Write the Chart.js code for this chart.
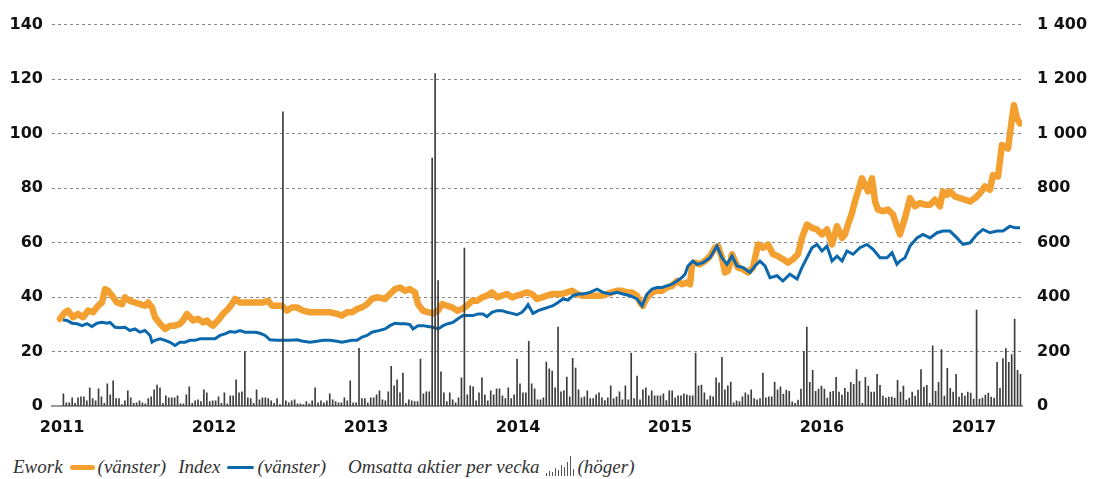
<!DOCTYPE html>
<html>
<head>
<meta charset="utf-8">
<script src="https://cdn.jsdelivr.net/npm/chart.js@4.4.1/dist/chart.umd.min.js"></script>
<style>
  body { margin: 0; background: #fff; }
  #wrap { position: relative; width: 1093px; height: 479px; overflow: hidden; }
  #chart { position: absolute; left: 0; top: 0; }
  .legend { position: absolute; left: 13px; top: 456px; display: flex; align-items: center;
    font-family: "Liberation Serif", serif; font-style: italic; font-size: 19px; color: #333; white-space: nowrap; }
  .sw { display: inline-block; margin: 0 3px 0 7px; border-radius: 3px; }
  .gap1 { width: 12px; }
  .gap2 { width: 22px; }
  .icon { display: inline-flex; align-items: flex-end; height: 18px; margin: 0 2px 0 6px; }
  .icon span { display: inline-block; width: 1px; background: #555; margin-right: 2px; }
</style>
</head>
<body>
<div id="wrap">
  <canvas id="chart" width="1093" height="450"></canvas>
  <div class="legend">
    <span>Ework</span><span class="sw" style="width:25px;height:5px;background:#f3a030"></span><span>(vänster)</span>
    <span class="gap1"></span>
    <span>Index</span><span class="sw" style="width:27px;height:3px;background:#0b68ad"></span><span>(vänster)</span>
    <span class="gap2"></span>
    <span>Omsatta aktier per vecka</span>
    <span class="icon" id="icon"></span>
    <span>(höger)</span>
  </div>
</div>
<script>
// x axis years, y axis ticks
const yearLabels = [2011, 2012, 2013, 2014, 2015, 2016, 2017];
const leftTicks = [0, 20, 40, 60, 80, 100, 120, 140];
const rightTicks = [0, 200, 400, 600, 800, 1000, 1200, 1400];

// Ework share price (decimal year, value)
const ewT = [2010.987,2011.020,2011.039,2011.072,2011.105,2011.138,2011.171,2011.204,2011.237,2011.263,
  2011.283,2011.303,2011.329,2011.362,2011.395,2011.414,2011.447,2011.480,2011.513,2011.546,
  2011.566,2011.592,2011.612,2011.645,2011.678,2011.711,2011.743,2011.776,2011.796,2011.822,
  2011.842,2011.862,2011.895,2011.928,2011.954,2011.974,2011.993,2012.026,2012.059,2012.092,
  2012.118,2012.138,2012.171,2012.204,2012.237,2012.283,2012.322,2012.355,2012.382,2012.414,
  2012.447,2012.480,2012.513,2012.546,2012.586,2012.632,2012.678,2012.717,2012.763,2012.809,
  2012.842,2012.875,2012.908,2012.941,2012.974,2013.007,2013.039,2013.072,2013.125,2013.158,
  2013.191,2013.224,2013.257,2013.289,2013.322,2013.342,2013.375,2013.408,2013.441,2013.474,
  2013.500,2013.533,2013.566,2013.599,2013.632,2013.664,2013.697,2013.730,2013.763,2013.796,
  2013.829,2013.862,2013.895,2013.928,2013.961,2013.993,2014.026,2014.059,2014.092,2014.125,
  2014.158,2014.191,2014.224,2014.257,2014.289,2014.322,2014.355,2014.388,2014.421,2014.454,
  2014.487,2014.520,2014.553,2014.586,2014.618,2014.651,2014.684,2014.717,2014.750,2014.783,
  2014.803,2014.822,2014.849,2014.882,2014.914,2014.947,2014.980,2015.013,2015.046,2015.079,
  2015.112,2015.132,2015.145,2015.164,2015.197,2015.230,2015.263,2015.296,2015.316,2015.342,
  2015.362,2015.382,2015.408,2015.428,2015.447,2015.480,2015.513,2015.546,2015.579,2015.612,
  2015.645,2015.678,2015.711,2015.743,2015.776,2015.809,2015.842,2015.868,2015.901,2015.934,
  2015.967,2016.000,2016.033,2016.066,2016.099,2016.132,2016.151,2016.171,2016.197,2016.217,
  2016.237,2016.263,2016.283,2016.303,2016.329,2016.349,2016.368,2016.401,2016.434,2016.467,
  2016.493,2016.513,2016.546,2016.579,2016.612,2016.645,2016.678,2016.711,2016.743,2016.776,
  2016.796,2016.822,2016.842,2016.875,2016.908,2016.941,2016.974,2017.007,2017.039,2017.072,
  2017.105,2017.125,2017.158,2017.184,2017.204,2017.224,2017.250,2017.263,2017.283,2017.303];
const ewV = [32,34.4,35,32.6,33.8,32.6,35,34.4,36.8,38,
  42.9,42.3,40.5,38,37.4,39.9,38.6,38,37.4,36.8,
  38,36.2,32.6,30.2,28.3,29.5,29.5,30.2,31.4,33.8,
  32.6,31.4,32,30.7,31.4,30.2,29.5,31.4,33.8,35.6,
  37.4,39.3,38,38,38,38,38,38.6,36.8,36.8,
  36.8,35,36.2,36.2,35,34.4,34.4,34.4,34.4,33.8,
  33.2,34.4,34.4,35.6,36.2,37.4,39.3,39.9,39.3,41.1,
  42.9,43.5,42.3,42.9,41.7,37.4,35,34.4,34,35,
  37.4,36.8,36.2,35,35.6,36.8,38.6,38.6,39.9,40.5,
  41.7,39.9,40.5,41.1,39.9,40.5,41.1,41.7,41.1,39.3,
  39.9,40.5,41.1,41.1,41.1,41.7,42.3,41.1,40.5,40.5,
  40.5,40.5,40.5,41.1,41.7,42.3,42.3,41.7,41.7,40.5,
  38,36.8,39.9,41.7,42.3,42.3,43.5,44.1,45.9,44.7,
  45.3,44.7,52,52.6,52,53.2,55,58.1,58.7,54.4,
  49,49.6,55.7,53.2,50.8,50.2,49,50.8,59.3,58.1,
  59.3,55.7,55,53.9,52.6,53.9,55.7,61.7,66.6,65.4,
  64.8,63,64.8,59.3,66,61.7,63,66.6,70.8,75.1,
  78.8,83.6,81.2,78.8,83.6,75.1,72.1,71.5,72.1,70.3,
  66,63,69,76.3,73.3,74.5,73.9,73.9,75.7,73.3,
  78.8,77.5,78.8,76.9,76.3,75.7,75.1,76.3,78.1,80.6,
  79.4,84.8,84.2,95.8,95.2,94.5,105.5,110.4,105.5,103.7];

// Index (decimal year, value)
const ixT = [2011.007,2011.033,2011.066,2011.099,2011.132,2011.164,2011.197,2011.230,2011.263,2011.296,
  2011.316,2011.349,2011.382,2011.414,2011.447,2011.480,2011.513,2011.546,2011.579,2011.592,
  2011.612,2011.645,2011.678,2011.711,2011.743,2011.776,2011.809,2011.842,2011.875,2011.908,
  2011.941,2011.974,2012.007,2012.039,2012.072,2012.105,2012.138,2012.171,2012.204,2012.237,
  2012.270,2012.303,2012.336,2012.368,2012.414,2012.454,2012.500,2012.546,2012.586,2012.632,
  2012.678,2012.717,2012.763,2012.809,2012.842,2012.875,2012.908,2012.941,2012.974,2013.007,
  2013.039,2013.072,2013.125,2013.158,2013.191,2013.224,2013.257,2013.289,2013.309,2013.342,
  2013.375,2013.408,2013.441,2013.474,2013.507,2013.539,2013.572,2013.605,2013.638,2013.671,
  2013.704,2013.737,2013.770,2013.796,2013.829,2013.862,2013.895,2013.928,2013.961,2013.993,
  2014.026,2014.046,2014.066,2014.099,2014.132,2014.164,2014.197,2014.230,2014.263,2014.296,
  2014.329,2014.362,2014.395,2014.428,2014.474,2014.520,2014.559,2014.605,2014.651,2014.691,
  2014.737,2014.783,2014.816,2014.849,2014.882,2014.914,2014.947,2014.980,2015.013,2015.046,
  2015.079,2015.099,2015.118,2015.151,2015.178,2015.217,2015.263,2015.309,2015.342,2015.375,
  2015.408,2015.441,2015.480,2015.526,2015.559,2015.592,2015.625,2015.658,2015.704,2015.743,
  2015.789,2015.836,2015.868,2015.901,2015.934,2015.967,2016.000,2016.033,2016.066,2016.099,
  2016.132,2016.164,2016.204,2016.250,2016.296,2016.336,2016.382,2016.428,2016.461,2016.493,
  2016.513,2016.546,2016.579,2016.625,2016.664,2016.711,2016.757,2016.796,2016.842,2016.888,
  2016.928,2016.974,2017.020,2017.059,2017.105,2017.151,2017.191,2017.237,2017.270,2017.303];
const ixV = [31.6,31.4,30.4,30.2,29.5,30.2,29.2,30.4,30.7,30.4,
  30.7,28.9,28.7,28.9,27.7,28.3,27.1,27.7,25.9,23.4,
  24.1,24.7,24.1,23.4,22.2,23.4,23.4,24.1,24.1,24.7,
  24.7,24.7,24.7,25.9,26.5,27.3,27.1,27.7,27.1,27.1,
  27.1,26.7,25.9,24.3,24.1,24.1,24.1,24.3,23.8,23.4,
  23.8,24.1,24.1,23.8,23.4,23.8,24.1,24.1,25.3,25.9,
  27.1,27.5,28.3,29.5,30.4,30.2,30.2,29.9,28.3,29.5,
  29.5,29.2,28.9,28.3,29.5,30.2,30.7,32,33.2,33.2,
  33.2,33.8,33.8,32.8,34.4,35,35,34.4,34,33.5,
  34.4,35.6,37.2,34,35,35.6,36.2,36.8,38,39.3,
  38.9,40.5,41.1,41.1,41.7,42.9,41.7,41.1,41.7,41.1,
  40.5,39.3,36.8,41.1,42.9,43.5,43.5,44.1,44.7,45.9,
  47.2,48.4,51.4,53.2,52,52.6,54.4,58.7,54.4,52,
  55,51.4,50.8,49,51.4,53.2,51.4,47.1,47.8,45.9,
  48.4,46.6,50.8,54.4,58.1,59.3,56.9,58.7,53.2,55,
  53.2,56.9,55.7,58.1,59.3,57.5,54.4,54.4,56.3,52,
  53.2,54.4,58.7,61.7,63,61.7,63.6,64.2,64.2,61.7,
  59.3,59.9,63,64.8,63.6,64.2,64.2,66,65.4,65.4];

// Omsatta aktier per vecka (thousands), one bar per week
const volStart = 2011.009;
const volStep = 0.019257;
const volume = [45,12,12,30,10,30,34,34,19,67,
  27,19,63,34,10,81,41,92,27,27,
  5,19,56,30,10,12,19,12,8,27,
  34,59,77,67,10,37,30,30,30,37,
  8,8,41,70,10,19,23,16,59,48,
  16,19,19,34,10,48,8,37,37,96,
  48,52,200,30,27,10,59,23,30,30,
  27,19,10,27,5,1080,19,12,19,23,
  8,8,5,16,8,19,67,12,19,12,
  19,45,23,16,12,12,30,19,92,12,
  12,212,27,27,12,30,30,41,56,23,
  19,52,146,74,96,48,121,10,23,19,
  16,16,172,45,52,52,910,1220,460,125,
  48,16,48,23,12,30,103,580,41,74,
  70,19,48,103,41,19,56,41,63,63,
  37,27,67,27,41,172,81,48,48,237,
  81,63,23,23,30,161,136,128,67,290,
  52,56,106,34,175,139,59,30,34,56,
  27,27,41,48,30,20,30,74,27,34,
  52,23,74,23,194,27,110,23,59,67,
  37,56,37,37,37,45,20,56,56,30,
  37,37,45,41,37,37,194,74,77,48,
  23,37,34,103,85,179,59,74,88,12,
  19,16,34,48,41,59,27,23,27,121,
  30,34,34,88,59,70,44,58,54,15,
  10,22,62,200,290,87,131,54,62,73,
  62,29,51,54,105,51,40,65,51,87,
  80,134,91,10,105,73,51,51,116,76,
  36,29,33,33,29,94,51,73,22,29,
  51,36,58,134,69,76,10,221,54,87,
  207,36,138,65,51,116,33,47,36,51,
  47,25,352,25,29,40,47,33,29,160,
  65,174,211,160,189,319,131,116];

// little bar icon in the legend
const iconBars = [3, 5, 4, 8, 6, 11, 9, 14, 20, 7];

const icon = document.getElementById('icon');
iconBars.forEach(h => {
  const s = document.createElement('span');
  s.style.height = h + 'px';
  icon.appendChild(s);
});

const tickFont = { family: '"DejaVu Sans", sans-serif', size: 16, weight: 'bold' };
const fmtRight = v => v >= 1000 ? Math.floor(v / 1000) + ' ' + String(v % 1000).padStart(3, '0') : String(v);

const ctx = document.getElementById('chart');

new Chart(ctx, {
  type: 'bar',
  data: {
    datasets: [
      {
        type: 'bar',
        label: 'Omsatta aktier per vecka',
        data: volume.map((v, i) => ({ x: volStart + i * volStep, y: v })),
        yAxisID: 'y1',
        backgroundColor: '#3d3d3d',
        barThickness: 1,
        order: 0
      },
      {
        type: 'line',
        label: 'Index',
        data: ixT.map((t, i) => ({ x: t, y: ixV[i] })),
        yAxisID: 'y',
        borderColor: '#0b68ad',
        borderWidth: 3,
        pointRadius: 0,
        tension: 0,
        order: 1
      },
      {
        type: 'line',
        label: 'Ework',
        data: ewT.map((t, i) => ({ x: t, y: ewV[i] })),
        yAxisID: 'y',
        borderColor: '#f3a030',
        borderWidth: 6.5,
        borderJoinStyle: 'round',
        borderCapStyle: 'round',
        pointRadius: 0,
        tension: 0,
        order: 2
      }
    ]
  },
  options: {
    responsive: false,
    animation: false,
    layout: { padding: { top: 22, left: 0, right: 0, bottom: 0 } },
    plugins: { legend: { display: false }, tooltip: { enabled: false } },
    scales: {
      x: {
        type: 'linear',
        min: 2010.934,
        max: 2017.316,
        offset: false,
        grid: { display: false, drawTicks: false },
        border: { display: true, color: '#999', width: 2 },
        ticks: { font: tickFont, color: '#111', padding: 12, callback: v => String(v) },
        afterBuildTicks: s => { s.ticks = yearLabels.map(v => ({ value: v })); },
        afterFit: s => { s.height = 44; }
      },
      y: {
        position: 'left',
        min: 0,
        max: 140,
        grid: { color: '#888', lineWidth: 1, drawTicks: false },
        border: { display: false, dash: [3, 3] },
        ticks: { font: tickFont, color: '#111', padding: 9 },
        afterBuildTicks: s => { s.ticks = leftTicks.map(v => ({ value: v })); },
        afterFit: s => { s.width = 52; }
      },
      y1: {
        position: 'right',
        min: 0,
        max: 1400,
        grid: { display: false, drawTicks: false },
        border: { display: false },
        ticks: { font: tickFont, color: '#111', padding: 15, crossAlign: 'near', callback: v => fmtRight(v) },
        afterBuildTicks: s => { s.ticks = rightTicks.map(v => ({ value: v })); },
        afterFit: s => { s.width = 71; }
      }
    }
  }
});
</script>
</body>
</html>
